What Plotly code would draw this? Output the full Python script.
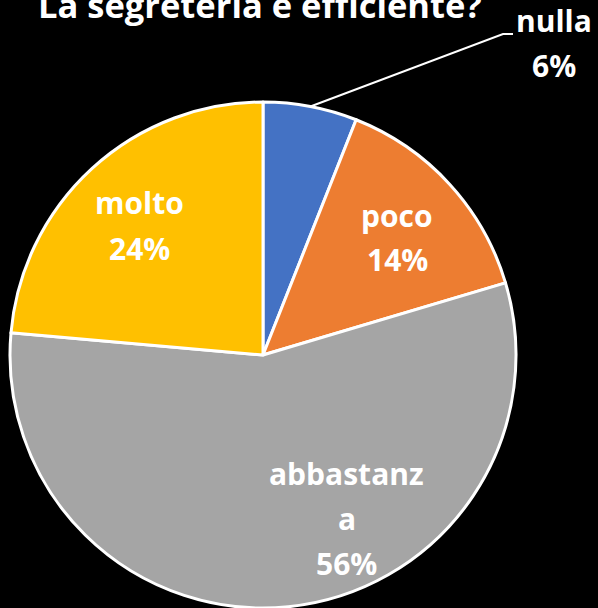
import math
import plotly.graph_objects as go

# ---- data ----
categories = ["nulla", "poco", "abbastanza", "molto"]
values = [6.0, 14.4, 56.0, 23.6]
label_lines = [["nulla"], ["poco"], ["abbastanz", "a"], ["molto"]]
colors = ["#4472C4", "#ED7D31", "#A5A5A5", "#FFC000"]
title_text = "La segreteria è efficiente?"

W, H = 598, 608
FONT = "Open Sans"
CX, CY, R = 263, 355, 253

def px(x):
    return x / W

def py(y):
    return 1 - y / H

total = sum(values)
pcts = [f"{round(v / total * 100)}%" for v in values]

fig = go.Figure(go.Pie(
    labels=categories,
    values=values,
    sort=False,
    direction="clockwise",
    rotation=0,
    marker=dict(colors=colors, line=dict(color="white", width=3)),
    textinfo="none",
    hoverinfo="label+percent",
    showlegend=False,
    domain=dict(x=[px(CX - R), px(CX + R)], y=[py(CY + R), py(CY - R)]),
))

# label positions (pixel anchor: centre x, baseline of first line)
label_pos = [(554, 33), (397, 227), (347, 485), (139, 215)]
LINE_GAP = 45
FS = 30

annotations = []
for i, (lines, (lx, ly)) in enumerate(zip(label_lines, label_pos)):
    all_lines = lines + [pcts[i]]
    for k, t in enumerate(all_lines):
        base = ly + k * LINE_GAP
        annotations.append(dict(
            x=px(lx), y=py(base - 0.4 * FS), xref="paper", yref="paper",
            text=f"<b>{t}</b>", showarrow=False,
            xanchor="center", yanchor="middle",
            font=dict(family=FONT, size=FS, color="white"),
        ))

# title (partly clipped at the top, as in the reference)
TFS = 34.5
annotations.append(dict(
    x=px(260), y=py(18 - 0.4 * TFS), xref="paper", yref="paper",
    text=f"<b>{title_text}</b>", showarrow=False,
    xanchor="center", yanchor="middle",
    font=dict(family=FONT, size=TFS, color="white"),
))

# leader line for the small slice (nulla), from slice mid-angle on the rim
mid = 360 * (values[0] / 2) / total
sx = CX + R * math.sin(math.radians(mid))
sy = CY - R * math.cos(math.radians(mid))
shapes = [
    dict(type="path", xref="paper", yref="paper",
         path=f"M {px(sx)} {py(sy)} L {px(503)} {py(34)} L {px(513)} {py(34)}",
         line=dict(color="white", width=2)),
]

fig.update_layout(
    width=W, height=H,
    margin=dict(l=0, r=0, t=0, b=0),
    paper_bgcolor="black",
    plot_bgcolor="black",
    annotations=annotations,
    shapes=shapes,
)

fig.write_html(
    "out.html",
    config={"displayModeBar": False},
    post_script="document.body.style.margin='0';document.body.style.background='black';",
)
